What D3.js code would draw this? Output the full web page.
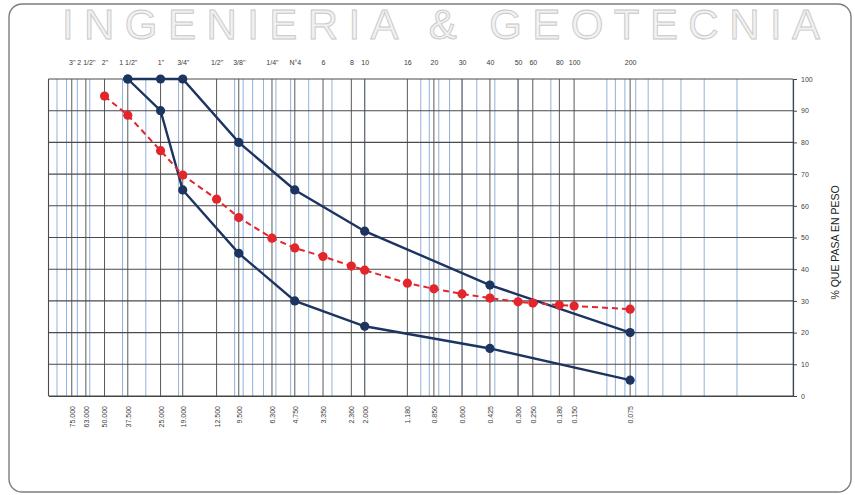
<!DOCTYPE html>
<html>
<head>
<meta charset="utf-8">
<script src="https://cdn.jsdelivr.net/npm/d3@7"></script>
<style>
  html, body { margin: 0; padding: 0; background: #ffffff; }
  svg { display: block; font-family: "Liberation Sans", Arial, sans-serif; }
</style>
</head>
<body>
<svg id="chart" width="855" height="495"></svg>
<script>
// Sieve series (ASTM) and their openings in mm
const sieveLabels = ['3"', '2 1/2"', '2"', '1 1/2"', '1"', '3/4"', '1/2"', '3/8"', '1/4"', 'N°4', '6', '8', '10', '16', '20', '30', '40', '50', '60', '80', '100', '200'];
const sieveSizes = [75, 63, 50, 37.5, 25, 19, 12.5, 9.5, 6.3, 4.75, 3.35, 2.36, 2.0, 1.18, 0.85, 0.6, 0.425, 0.3, 0.25, 0.18, 0.15, 0.075];
const sizeLabels = ["75.000", "63.000", "50.000", "37.500", "25.000", "19.000", "12.500", "9.500", "6.300", "4.750", "3.350", "2.360", "2.000", "1.180", "0.850", "0.600", "0.425", "0.300", "0.250", "0.180", "0.150", "0.075"];

// Specification band
const limitSizes = [37.5, 25, 19, 9.5, 4.75, 2.0, 0.425, 0.075];
const upperLimit = [100, 100, 100, 80, 65, 52, 35, 20];
const lowerLimit = [100, 90, 65, 45, 30, 22, 15, 5];

// Sample gradation (% passing)
const sampleSizes = [50, 37.5, 25, 19, 12.5, 9.5, 6.3, 4.75, 3.35, 2.36, 2.0, 1.18, 0.85, 0.6, 0.425, 0.3, 0.25, 0.18, 0.15, 0.075];
const samplePass = [94.6, 88.6, 77.4, 69.7, 62.1, 56.3, 49.8, 46.7, 44.0, 41.0, 39.7, 35.6, 33.8, 32.2, 30.9, 29.7, 29.3, 28.7, 28.4, 27.4];

const yTicks = [0, 10, 20, 30, 40, 50, 60, 70, 80, 90, 100];

const svg = d3.select("#chart");
const plot = { left: 48.5, right: 793, top: 79, bottom: 396 };

const x = d3.scaleLog().domain([100, 0.01]).range([plot.left, plot.right]);
const y = d3.scaleLinear().domain([0, 100]).range([plot.bottom, plot.top]);

// Letterhead
svg.append("text")
  .attr("x", 62).attr("y", 38.5)
  .attr("textLength", 758).attr("lengthAdjust", "spacing")
  .attr("font-size", 42)
  .attr("fill", "#f1f1f1").attr("stroke", "#c9c9c9").attr("stroke-width", 0.9)
  .text("INGENIERIA & GEOTECNIA");

// Page frame
svg.append("rect")
  .attr("x", 9).attr("y", 4).attr("width", 842).attr("height", 488)
  .attr("rx", 13)
  .attr("fill", "none").attr("stroke", "#7d7d7d").attr("stroke-width", 1.4);

// Minor logarithmic grid (blue)
const minor = [];
for (let e = -2; e <= 1; e++) {
  for (let m = 1; m <= 9; m++) {
    const v = m * Math.pow(10, e);
    if (v >= 0.01 && v <= 100) minor.push(v);
  }
}
svg.append("g").selectAll("line").data(minor).join("line")
  .attr("x1", d => x(d)).attr("x2", d => x(d))
  .attr("y1", plot.top).attr("y2", plot.bottom)
  .attr("stroke", "#8fb2da").attr("stroke-width", 1);

// Sieve grid (dark)
svg.append("g").selectAll("line").data(sieveSizes).join("line")
  .attr("x1", d => x(d)).attr("x2", d => x(d))
  .attr("y1", plot.top).attr("y2", plot.bottom)
  .attr("stroke", "#5a5a5a").attr("stroke-width", 1);

// Horizontal grid
svg.append("g").selectAll("line").data(yTicks).join("line")
  .attr("x1", plot.left).attr("x2", plot.right)
  .attr("y1", d => y(d)).attr("y2", d => y(d))
  .attr("stroke", "#4a4a4a").attr("stroke-width", 1.1);

// Left frame line
svg.append("line")
  .attr("x1", plot.left).attr("x2", plot.left)
  .attr("y1", plot.top).attr("y2", plot.bottom)
  .attr("stroke", "#4a4a4a").attr("stroke-width", 1.1);

// Top axis: sieve designations
const topAxis = d3.axisTop(x).tickValues(sieveSizes)
  .tickFormat((d, i) => sieveLabels[i]).tickSize(0).tickPadding(0);
const gTop = svg.append("g").attr("transform", `translate(0,${plot.top - 14})`).call(topAxis);
gTop.select(".domain").remove();
gTop.selectAll("text").attr("font-size", 7).attr("fill", "#3a3a3a")
  .attr("font-family", "Liberation Sans, Arial, sans-serif");

// Bottom axis: openings in mm
const bottomAxis = d3.axisBottom(x).tickValues(sieveSizes)
  .tickFormat((d, i) => sizeLabels[i]).tickSize(0).tickPadding(0);
const gBot = svg.append("g").attr("transform", `translate(0,${plot.bottom})`).call(bottomAxis);
gBot.select(".domain").attr("stroke", "#444").attr("stroke-width", 1.2);
gBot.selectAll("text")
  .attr("font-size", 7).attr("fill", "#3a3a3a")
  .attr("font-family", "Liberation Sans, Arial, sans-serif")
  .attr("text-anchor", "end")
  .attr("dy", "0.35em")
  .attr("transform", "translate(0,10) rotate(-90)")
  .attr("x", 0).attr("y", 0);

// Right axis: % passing
const rightAxis = d3.axisRight(y).tickValues(yTicks).tickSize(4).tickPadding(4);
const gRight = svg.append("g").attr("transform", `translate(${plot.right},0)`).call(rightAxis);
gRight.select(".domain").attr("stroke", "#444").attr("stroke-width", 1.2);
gRight.selectAll(".tick line").attr("stroke", "#444");
gRight.selectAll("text").attr("font-size", 7).attr("fill", "#444")
  .attr("font-family", "Liberation Sans, Arial, sans-serif");

svg.append("text")
  .attr("transform", `translate(839,${(plot.top + plot.bottom) / 2 + 5}) rotate(-90)`)
  .attr("text-anchor", "middle")
  .attr("font-size", 10.5).attr("fill", "#222")
  .text("% QUE PASA EN PESO");

// Curves
const line = d3.line().x(d => x(d[0])).y(d => y(d[1]));
const navy = "#1d3461";
const red = "#e2262c";

const bands = [
  limitSizes.map((s, i) => [s, upperLimit[i]]),
  limitSizes.map((s, i) => [s, lowerLimit[i]])
];
bands.forEach(pts => {
  svg.append("path").datum(pts).attr("d", line)
    .attr("fill", "none").attr("stroke", navy).attr("stroke-width", 2.4);
  svg.append("g").selectAll("circle").data(pts).join("circle")
    .attr("cx", d => x(d[0])).attr("cy", d => y(d[1])).attr("r", 4.6)
    .attr("fill", navy);
});

const sample = sampleSizes.map((s, i) => [s, samplePass[i]]);
svg.append("path").datum(sample).attr("d", line)
  .attr("fill", "none").attr("stroke", red).attr("stroke-width", 2)
  .attr("stroke-dasharray", "6,4");
svg.append("g").selectAll("circle").data(sample).join("circle")
  .attr("cx", d => x(d[0])).attr("cy", d => y(d[1])).attr("r", 4.6)
  .attr("fill", red);
</script>
</body>
</html>
